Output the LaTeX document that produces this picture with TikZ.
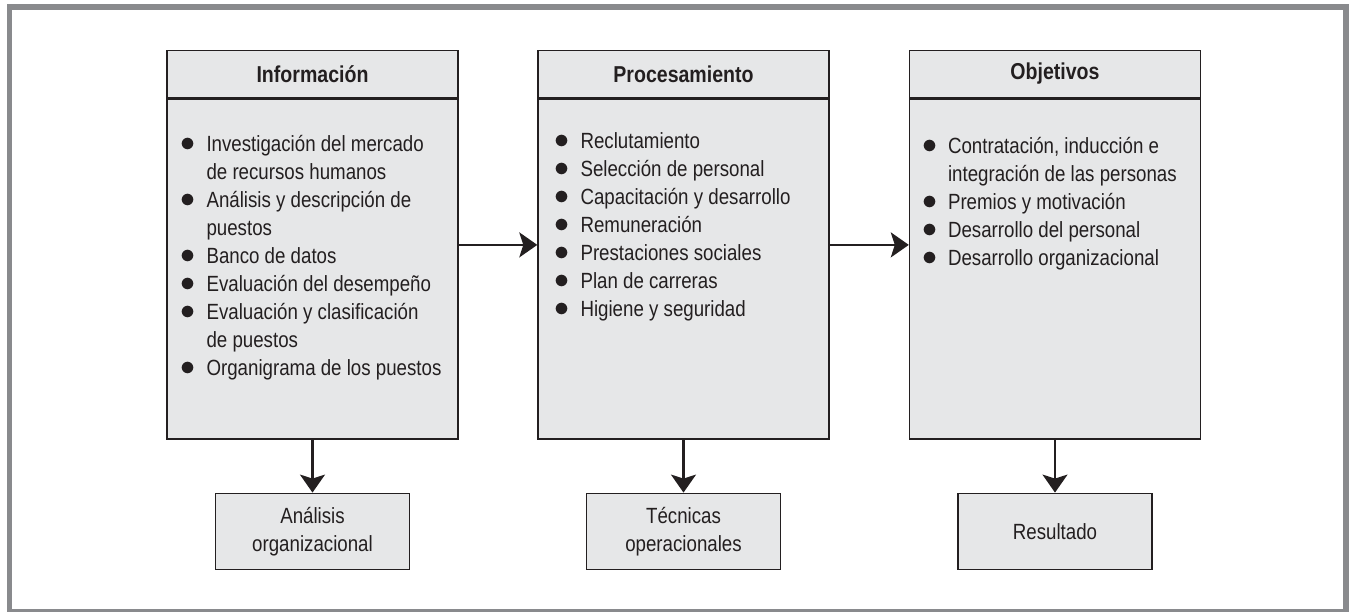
\documentclass[tikz,border=0pt]{standalone}
\usepackage{fontspec}
\setmainfont{Liberation Sans}[FakeStretch=0.85]
\usetikzlibrary{arrows.meta,positioning}

\definecolor{cajagris}{HTML}{E6E7E8}
\definecolor{tinta}{HTML}{231F20}
\definecolor{marco}{HTML}{898A8D}

\newcommand{\vineta}{\scalebox{1.45}{$\bullet$}}

\tikzset{
  caja/.style={draw=tinta, line width=1.4pt, fill=cajagris, inner sep=0pt},
  titulo/.style={caja, minimum width=291pt, minimum height=47pt, font=\fontsize{23}{28}\selectfont\bfseries},
  cuerpo/.style={caja, minimum width=291pt, minimum height=340pt},
  lista/.style={anchor=north west, inner sep=0pt, align=left},
  resultado/.style={caja, minimum width=194pt, minimum height=76pt, align=center},
  flecha/.style={line width=2.2pt, draw=tinta, -{Stealth[length=18pt,width=25pt,inset=4pt]}}
}

\begin{document}
\begin{tikzpicture}[x=1pt, y=-1pt, font=\fontsize{22}{28}\selectfont, text=tinta]
  \useasboundingbox (0,0) rectangle (1350,612);
  \draw[marco, line width=5.5pt] (9.5,7) rectangle (1346,611.5);

  % cajas principales
  \node[titulo] (infoT) at (312.5,74) {Información};
  \node[cuerpo, below=0pt of infoT] (info) {};
  \node[titulo] (procT) at (683.5,74) {Procesamiento};
  \node[cuerpo, below=0pt of procT] (proc) {};
  \node[titulo] (objT) at (1055,74) {Objetivos};
  \node[cuerpo, below=0pt of objT] (obj) {};

  \node[lista] (infoL) at ([shift={(14,34)}]info.north west) {%
    \begin{tabular}{@{}l@{\hspace{11pt}}l@{}}
      \vineta & Investigación del mercado\\
              & de recursos humanos\\
      \vineta & Análisis y descripción de\\
              & puestos\\
      \vineta & Banco de datos\\
      \vineta & Evaluación del desempeño\\
      \vineta & Evaluación y clasificación\\
              & de puestos\\
      \vineta & Organigrama de los puestos
    \end{tabular}};
  \node[lista] (procL) at ([shift={(17,31)}]proc.north west) {%
    \begin{tabular}{@{}l@{\hspace{11pt}}l@{}}
      \vineta & Reclutamiento\\
      \vineta & Selección de personal\\
      \vineta & Capacitación y desarrollo\\
      \vineta & Remuneración\\
      \vineta & Prestaciones sociales\\
      \vineta & Plan de carreras\\
      \vineta & Higiene y seguridad
    \end{tabular}};
  \node[lista] (objL) at ([shift={(13,36)}]obj.north west) {%
    \begin{tabular}{@{}l@{\hspace{11pt}}l@{}}
      \vineta & Contratación, inducción e\\
              & integración de las personas\\
      \vineta & Premios y motivación\\
      \vineta & Desarrollo del personal\\
      \vineta & Desarrollo organizacional
    \end{tabular}};

  % cajas de abajo
  \node[resultado, below=53pt of info] (anal) {Análisis\\organizacional};
  \node[resultado, below=53pt of proc] (tecn) {Técnicas\\operacionales};
  \node[resultado, below=53pt of obj] (resu) {Resultado};

  % flechas
  \draw[flecha] ([yshift=24pt]info.east) -- ([yshift=24pt]proc.west);
  \draw[flecha] ([yshift=24pt]proc.east) -- ([yshift=24pt]obj.west);
  \draw[flecha] (info) -- (anal);
  \draw[flecha] (proc) -- (tecn);
  \draw[flecha] (obj) -- (resu);
\end{tikzpicture}
\end{document}
